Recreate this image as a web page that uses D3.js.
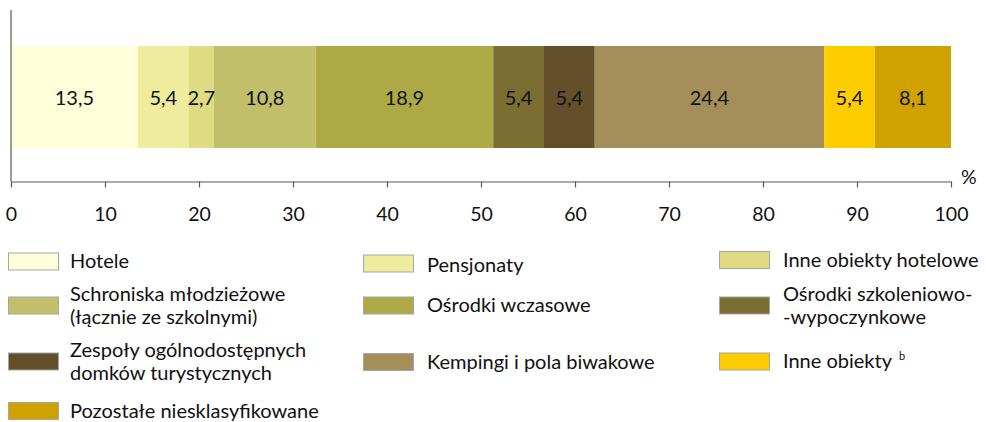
<!DOCTYPE html>
<html>
<head>
<meta charset="utf-8">
<script src="https://cdn.jsdelivr.net/npm/d3@7"></script>
<style>
  html, body { margin: 0; padding: 0; background: #fff; }
  svg { display: block; font-family: Lato, "Open Sans", sans-serif; }
</style>
</head>
<body>
<svg id="chart" width="986" height="422"></svg>
<script>
// Structure of accommodation establishments by type (%)
const categories = [
  "Hotele",
  "Pensjonaty",
  "Inne obiekty hotelowe",
  "Schroniska młodzieżowe (łącznie ze szkolnymi)",
  "Ośrodki wczasowe",
  "Ośrodki szkoleniowo-wypoczynkowe",
  "Zespoły ogólnodostępnych domków turystycznych",
  "Kempingi i pola biwakowe",
  "Inne obiekty",
  "Pozostałe niesklasyfikowane"
];
const values = [13.5, 5.4, 2.7, 10.8, 18.9, 5.4, 5.4, 24.4, 5.4, 8.1];
const valueLabels = ["13,5", "5,4", "2,7", "10,8", "18,9", "5,4", "5,4", "24,4", "5,4", "8,1"];
const colors = ["#FEFFDA", "#F0EC9D", "#DFDB82", "#C2BF6A", "#ADAA45",
                "#7B6E33", "#634F2A", "#A48F5A", "#FFCC00", "#CFA200"];
const tickValues = [0, 10, 20, 30, 40, 50, 60, 70, 80, 90, 100];
const unitLabel = "%";

// Legend text, split into displayed lines
const legendLines = [
  ["Hotele"],
  ["Pensjonaty"],
  ["Inne obiekty hotelowe"],
  ["Schroniska młodzieżowe", "(łącznie ze szkolnymi)"],
  ["Ośrodki wczasowe"],
  ["Ośrodki szkoleniowo-", "-wypoczynkowe"],
  ["Zespoły ogólnodostępnych", "domków turystycznych"],
  ["Kempingi i pola biwakowe"],
  ["Inne obiekty"],
  ["Pozostałe niesklasyfikowane"]
];
const legendSup = [null, null, null, null, null, null, null, null, "b", null];

const svg = d3.select("#chart");
const axisColor = "#595959";
const textColor = "#111";

const x = d3.scaleLinear().domain([0, 100]).range([11, 951]);
const barTop = 46, barBottom = 148, axisY = 181.5;

// Cumulative stacking of the single bar
const stack = [];
let acc = 0;
values.forEach((v, i) => { stack.push({ i, x0: acc, x1: acc + v, v }); acc += v; });

svg.append("g").selectAll("rect")
  .data(stack).join("rect")
  .attr("x", d => x(d.x0))
  .attr("y", barTop)
  .attr("width", d => x(d.x1) - x(d.x0))
  .attr("height", barBottom - barTop)
  .attr("fill", d => colors[d.i]);

svg.append("g").selectAll("text")
  .data(stack).join("text")
  .attr("x", d => (x(d.x0) + x(d.x1)) / 2)
  .attr("y", (barTop + barBottom) / 2 + 8)
  .attr("text-anchor", "middle")
  .attr("font-size", 20)
  .attr("fill", textColor)
  .text(d => valueLabels[d.i]);

// Vertical axis line
svg.append("line")
  .attr("x1", x(0)).attr("x2", x(0))
  .attr("y1", 10).attr("y2", axisY)
  .attr("stroke", axisColor).attr("stroke-width", 1.2);

// Horizontal axis
const axis = d3.axisBottom(x).tickValues(tickValues).tickSize(6).tickSizeOuter(0)
  .tickFormat(d3.format("d"));
const gAxis = svg.append("g").attr("transform", `translate(0,${axisY})`).call(axis);
gAxis.select(".domain").attr("stroke", axisColor).attr("stroke-width", 1.2);
gAxis.selectAll(".tick line").attr("stroke", axisColor).attr("stroke-width", 1.2);
gAxis.selectAll(".tick text")
  .attr("y", 39.5).attr("dy", 0)
  .attr("font-family", "Lato, sans-serif")
  .attr("font-size", 19.5).attr("fill", textColor);

svg.append("text")
  .attr("x", 961).attr("y", 184)
  .attr("font-size", 19.5).attr("fill", textColor)
  .text(unitLabel);

// Legend layout: three columns, four rows
const colX = [8, 363, 719];
const textX = [70, 427, 783];
const swatchCenterY = [[261.5, 263.5, 260], [305.5, 305.5, 305.5], [361.5, 362, 361.5], [411]];
const swatchW = 50, swatchH = 17, lineH = 23;

const legendItems = categories.map((c, i) => ({
  i, col: i % 3, row: Math.floor(i / 3)
}));

const lg = svg.append("g").selectAll("g")
  .data(legendItems).join("g")
  .attr("transform", d => `translate(0,${swatchCenterY[d.row][d.col]})`);

lg.append("rect")
  .attr("x", d => colX[d.col] + 0.5).attr("y", -swatchH / 2)
  .attr("width", swatchW).attr("height", swatchH)
  .attr("fill", d => colors[d.i])
  .attr("stroke", "#A6A6A6").attr("stroke-width", 1);

lg.each(function(d) {
  const g = d3.select(this);
  const lines = legendLines[d.i];
  const n = lines.length;
  const tx = textX[d.col];
  const shift = (n === 1 && d.col === 1 && d.row === 0) ? 2 : 0;
  const t = g.append("text")
    .attr("x", tx)
    .attr("font-size", 20).attr("fill", textColor);
  lines.forEach((ln, k) => {
    t.append("tspan")
      .attr("x", tx)
      .attr("y", (k - (n - 1) / 2) * lineH + 6.5 + shift)
      .text(ln);
  });
  if (legendSup[d.i]) {
    t.append("tspan")
      .attr("dx", 7).attr("dy", -8)
      .attr("font-size", 11)
      .text(legendSup[d.i]);
  }
});
</script>
</body>
</html>
